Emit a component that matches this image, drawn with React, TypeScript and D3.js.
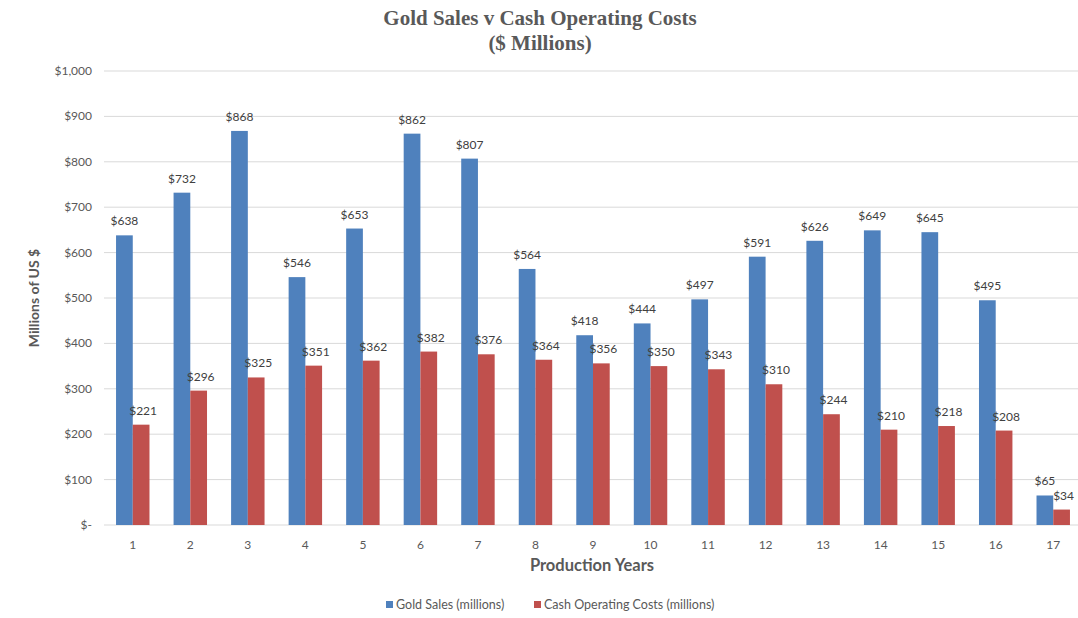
import React, { useEffect, useRef } from "react";
import * as d3 from "d3";

const years = ["1", "2", "3", "4", "5", "6", "7", "8", "9", "10", "11", "12", "13", "14", "15", "16", "17"];
const goldSales = [638, 732, 868, 546, 653, 862, 807, 564, 418, 444, 497, 591, 626, 649, 645, 495, 65];
const cashCosts = [221, 296, 325, 351, 362, 382, 376, 364, 356, 350, 343, 310, 244, 210, 218, 208, 34];
const yTicks = [0, 100, 200, 300, 400, 500, 600, 700, 800, 900, 1000];
const seriesNames = ["Gold Sales (millions)", "Cash Operating Costs (millions)"];
const colors = ["#4f81bd", "#c0504d"];

const W = 1078;
const H = 618;
const font = "Lato, 'Open Sans', sans-serif";
const serif = "'Liberation Serif', 'Times New Roman', serif";

function App() {
  const ref = useRef<SVGSVGElement | null>(null);

  useEffect(() => {
    const svg = d3.select(ref.current);
    svg.selectAll("*").remove();

    const left = 104;
    const right = 1082;
    const top = 71;
    const bottom = 525;

    const x = d3.scaleBand<string>().domain(years).range([left, right]);
    const inner = d3
      .scaleBand<number>()
      .domain([0, 1])
      .range([0, x.bandwidth()])
      .paddingOuter(0.72)
      .paddingInner(0);
    const y = d3.scaleLinear().domain([0, 1000]).range([bottom, top]);

    const fmt = (v: number) => (v === 0 ? "$-" : "$" + d3.format(",")(v));

    // gridlines
    svg
      .append("g")
      .selectAll("line")
      .data(yTicks)
      .join("line")
      .attr("x1", left)
      .attr("x2", right)
      .attr("y1", (d) => y(d))
      .attr("y2", (d) => y(d))
      .attr("stroke", "#d9d9d9")
      .attr("stroke-width", 1);

    // y labels
    svg
      .append("g")
      .selectAll("text")
      .data(yTicks)
      .join("text")
      .attr("x", 92)
      .attr("y", (d) => y(d) + 4)
      .attr("text-anchor", "end")
      .attr("font-family", font)
      .attr("font-size", 12)
      .attr("fill", "#595959")
      .text((d) => fmt(d));

    // bars + data labels
    const series = [goldSales, cashCosts];
    series.forEach((vals, s) => {
      svg
        .append("g")
        .selectAll("rect")
        .data(vals)
        .join("rect")
        .attr("x", (_, i) => (x(years[i]) as number) + (inner(s) as number))
        .attr("y", (d) => y(d))
        .attr("width", inner.bandwidth())
        .attr("height", (d) => y(0) - y(d))
        .attr("fill", colors[s]);

      svg
        .append("g")
        .selectAll("text")
        .data(vals)
        .join("text")
        .attr("x", (_, i) => (x(years[i]) as number) + (inner(s) as number) + inner.bandwidth() / 2 + (s === 1 ? 2 : 0))
        .attr("y", (d) => y(d) - 10)
        .attr("text-anchor", "middle")
        .attr("font-family", font)
        .attr("font-size", 12)
        .attr("fill", "#404040")
        .text((d) => fmt(d));
    });

    // x labels
    svg
      .append("g")
      .selectAll("text")
      .data(years)
      .join("text")
      .attr("x", (d) => (x(d) as number) + x.bandwidth() / 2)
      .attr("y", 549)
      .attr("text-anchor", "middle")
      .attr("font-family", font)
      .attr("font-size", 12)
      .attr("fill", "#595959")
      .text((d) => d);

    // titles
    svg
      .append("text")
      .attr("x", 540)
      .attr("y", 25)
      .attr("text-anchor", "middle")
      .attr("font-family", serif)
      .attr("font-weight", "bold")
      .attr("font-size", 21)
      .attr("fill", "#595959")
      .text("Gold Sales v Cash Operating Costs");
    svg
      .append("text")
      .attr("x", 540)
      .attr("y", 50)
      .attr("text-anchor", "middle")
      .attr("font-family", serif)
      .attr("font-weight", "bold")
      .attr("font-size", 21)
      .attr("fill", "#595959")
      .text("($ Millions)");

    svg
      .append("text")
      .attr("x", 592)
      .attr("y", 571)
      .attr("text-anchor", "middle")
      .attr("font-family", font)
      .attr("font-weight", "bold")
      .attr("font-size", 16.5)
      .attr("fill", "#595959")
      .text("Production Years");

    svg
      .append("text")
      .attr("transform", "translate(39,298) rotate(-90)")
      .attr("text-anchor", "middle")
      .attr("font-family", font)
      .attr("font-weight", "bold")
      .attr("font-size", 14)
      .attr("fill", "#595959")
      .text("Millions of US $");

    // legend
    const legendX = [386, 534];
    seriesNames.forEach((name, s) => {
      svg
        .append("rect")
        .attr("x", legendX[s])
        .attr("y", 601)
        .attr("width", 7)
        .attr("height", 7)
        .attr("fill", colors[s]);
      svg
        .append("text")
        .attr("x", legendX[s] + 10)
        .attr("y", 609)
        .attr("font-family", font)
        .attr("font-size", 12.5)
        .attr("fill", "#595959")
        .text(name);
    });
  }, []);

  return (
    <svg
      ref={ref}
      width={W}
      height={H}
      style={{ position: "absolute", left: 0, top: 0, background: "#fff" }}
    />
  );
}

export default App;
